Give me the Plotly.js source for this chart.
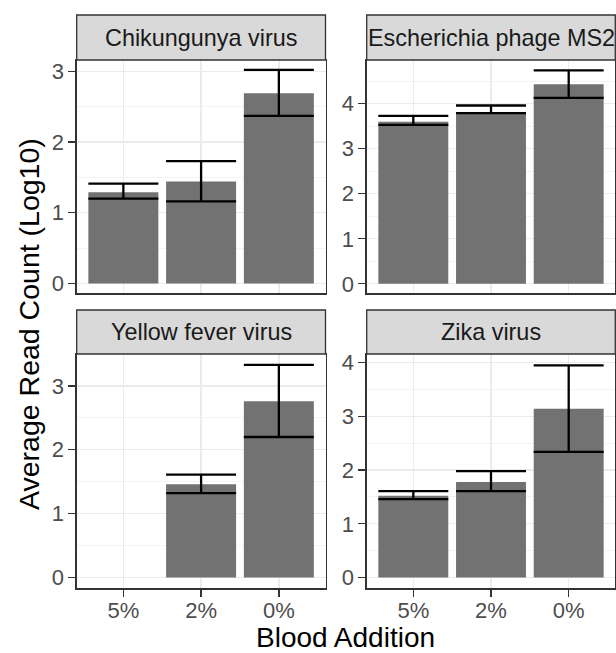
<!DOCTYPE html>
<html>
<head>
<meta charset="utf-8">
<script src="https://cdn.plot.ly/plotly-3.0.1.min.js"></script>
<style>html,body{margin:0;padding:0;background:#fff;}#chart{width:616px;height:653px;}</style>
</head>
<body>
<div id="chart"></div>
<script>
// Data
var categories = ['5%', '2%', '0%'];
var panels = ['Chikungunya virus', 'Escherichia phage MS2', 'Yellow fever virus', 'Zika virus'];

var chikMean = [1.29, 1.44, 2.69];
var chikUpper = [1.41, 1.73, 3.02];
var chikLower = [1.20, 1.16, 2.37];

var ms2Mean = [3.60, 3.81, 4.43];
var ms2Upper = [3.73, 3.96, 4.74];
var ms2Lower = [3.53, 3.79, 4.13];

var yfvMean = [null, 1.46, 2.76];
var yfvUpper = [null, 1.61, 3.33];
var yfvLower = [null, 1.32, 2.20];

var zikaMean = [1.52, 1.78, 3.14];
var zikaUpper = [1.61, 1.98, 3.95];
var zikaLower = [1.46, 1.61, 2.34];

var yTicks = [[0,1,2,3],[0,1,2,3,4],[0,1,2,3],[0,1,2,3,4]];
var yRanges = [[-0.14, 3.16], [-0.21, 4.97], [-0.17, 3.50], [-0.20, 4.16]];

var means = [chikMean, ms2Mean, yfvMean, zikaMean];
var uppers = [chikUpper, ms2Upper, yfvUpper, zikaUpper];
var lowers = [chikLower, ms2Lower, yfvLower, zikaLower];

var W = 616, H = 653;
var FONT = 'Liberation Sans, Arial, Helvetica, sans-serif';
var xDomains = [[76.7/W, 325.5/W], [366.7/W, 615.3/W]];
var yDomains = [[1-293.3/H, 1-60/H], [1-588.3/H, 1-354/H]];
var stripY = [[1-60/H, 1-15/H], [1-354/H, 1-310/H]];

var traces = [];
var layout = {
  width: W, height: H,
  margin: {l:0, r:0, t:0, b:0},
  paper_bgcolor: '#ffffff',
  plot_bgcolor: '#ffffff',
  showlegend: false,
  bargap: 0.1,
  font: {family: FONT, color: '#4d4d4d'},
  shapes: [],
  annotations: []
};

for (var i = 0; i < 4; i++) {
  var col = i % 2, row = Math.floor(i / 2);
  var sfx = i === 0 ? '' : String(i + 1);
  var up = [], dn = [];
  for (var j = 0; j < categories.length; j++) {
    up.push(means[i][j] === null ? null : uppers[i][j] - means[i][j]);
    dn.push(means[i][j] === null ? null : means[i][j] - lowers[i][j]);
  }
  traces.push({
    type: 'bar',
    x: categories,
    y: means[i],
    xaxis: 'x' + sfx,
    yaxis: 'y' + sfx,
    marker: {color: '#727272', line: {width: 0}},
    error_y: {type: 'data', symmetric: false, array: up, arrayminus: dn,
              color: '#000000', thickness: 2.3, width: 35},
    hoverinfo: 'skip'
  });
  layout['xaxis' + sfx] = {
    domain: xDomains[col],
    anchor: 'y' + sfx,
    type: 'category',
    categoryorder: 'array',
    categoryarray: categories,
    range: [-0.6, 2.6],
    showgrid: true, gridcolor: '#ebebeb', gridwidth: 1.3,
    showline: true, mirror: true, linecolor: '#333333', linewidth: 1.3,
    ticks: row === 1 ? 'outside' : '', ticklen: 7, tickwidth: 1.3, tickcolor: '#333333',
    showticklabels: row === 1,
    ticklabelstandoff: -5,
    tickfont: {family: FONT, size: 22, color: '#4d4d4d'},
    zeroline: false, fixedrange: true
  };
  layout['yaxis' + sfx] = {
    domain: yDomains[row],
    anchor: 'x' + sfx,
    range: yRanges[i],
    tickmode: 'array',
    tickvals: yTicks[i],
    ticktext: yTicks[i].map(String),
    showgrid: true, gridcolor: '#ebebeb', gridwidth: 1.3,
    minor: {tickmode: 'array', tickvals: yTicks[i].map(function(v){return v + 0.5;}).concat([-0.5]),
            showgrid: true, gridcolor: '#f0f0f0', gridwidth: 0.8, ticks: ''},
    showline: true, mirror: true, linecolor: '#333333', linewidth: 1.3,
    ticks: 'outside', ticklen: 7, tickwidth: 1.3, tickcolor: '#333333',
    tickfont: {family: FONT, size: 22, color: '#4d4d4d'},
    zeroline: false, fixedrange: true
  };
  layout.shapes.push({
    type: 'rect', xref: 'paper', yref: 'paper',
    x0: xDomains[col][0], x1: xDomains[col][1],
    y0: stripY[row][0], y1: stripY[row][1],
    fillcolor: '#d9d9d9', line: {color: '#333333', width: 1.3}, layer: 'above'
  });
  layout.annotations.push({
    text: panels[i], xref: 'paper', yref: 'paper',
    x: (xDomains[col][0] + xDomains[col][1]) / 2,
    y: (stripY[row][0] + stripY[row][1]) / 2,
    xanchor: 'center', yanchor: 'middle', showarrow: false,
    font: {family: FONT, size: 23.4, color: '#1a1a1a'}
  });
}

layout.annotations.push({
  text: 'Blood Addition', xref: 'paper', yref: 'paper',
  x: 345.5 / W, y: 1 - 637 / H, xanchor: 'center', yanchor: 'middle',
  showarrow: false, font: {family: FONT, size: 28, color: '#000000'}
});
layout.annotations.push({
  text: 'Average Read Count (Log10)', xref: 'paper', yref: 'paper',
  x: 29 / W, y: 1 - 324 / H, xanchor: 'center', yanchor: 'middle', textangle: -90,
  showarrow: false, font: {family: FONT, size: 28.5, color: '#000000'}
});

Plotly.newPlot('chart', traces, layout, {displayModeBar: false, staticPlot: true});
</script>
</body>
</html>
